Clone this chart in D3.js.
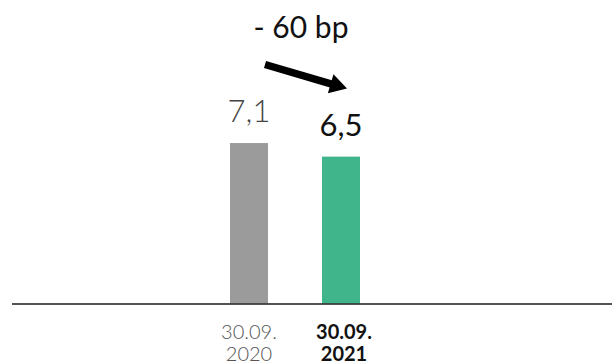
<!DOCTYPE html>
<html>
<head>
<meta charset="utf-8">
<script src="https://cdn.jsdelivr.net/npm/d3@7"></script>
<style>
  html, body { margin: 0; padding: 0; background: #fff; }
  svg { display: block; font-family: Lato, "Open Sans", sans-serif; }
</style>
</head>
<body>
<svg id="chart" width="612" height="364"></svg>
<script>
// Ratio at two reporting dates
const categories = ["30.09.2020", "30.09.2021"];
const values = [7.1, 6.5];
const valueLabels = ["7,1", "6,5"];
const tickLines = [["30.09.", "2020"], ["30.09.", "2021"]];
const changeLabel = "- 60 bp";
const barColors = ["#9b9b9b", "#40b48b"];

const svg = d3.select("#chart");

const x = d3.scaleBand()
  .domain(categories)
  .range([184, 406])
  .paddingInner(0.587)
  .paddingOuter(0.5);

const y = d3.scaleLinear()
  .domain([0, 10])
  .range([303.5, 77.5]);

// bars
svg.selectAll("rect.bar")
  .data(values)
  .join("rect")
  .attr("class", "bar")
  .attr("x", (d, i) => x(categories[i]))
  .attr("y", d => y(d))
  .attr("width", x.bandwidth())
  .attr("height", d => y(0) - y(d))
  .attr("fill", (d, i) => barColors[i]);

// baseline
svg.append("line")
  .attr("x1", 12).attr("x2", 612)
  .attr("y1", y(0) + 0.5).attr("y2", y(0) + 0.5)
  .attr("stroke", "#1a1a1a")
  .attr("stroke-width", 1.4);

// value labels
svg.selectAll("text.val")
  .data(values)
  .join("text")
  .attr("class", "val")
  .attr("x", (d, i) => x(categories[i]) + x.bandwidth() / 2)
  .attr("y", d => y(d) - 21)
  .attr("text-anchor", "middle")
  .attr("font-size", 31)
  .attr("font-weight", (d, i) => i === 0 ? 300 : 400)
  .attr("fill", (d, i) => i === 0 ? "#444" : "#111")
  .text((d, i) => valueLabels[i]);

// category labels (two lines each)
categories.forEach((c, i) => {
  const cx = x(c) + x.bandwidth() / 2 + (i === 1 ? 3 : 0);
  const t = svg.append("text")
    .attr("x", cx)
    .attr("y", 339)
    .attr("text-anchor", "middle")
    .attr("font-size", 20)
    .attr("font-weight", i === 0 ? 300 : 700)
    .attr("fill", i === 0 ? "#555" : "#111");
  tickLines[i].forEach((line, k) => {
    t.append("tspan")
      .attr("x", cx)
      .attr("dy", k === 0 ? 0 : 22)
      .text(line);
  });
});

// change annotation
const cx0 = x(categories[0]) + x.bandwidth() / 2;
const cx1 = x(categories[1]) + x.bandwidth() / 2;
svg.append("text")
  .attr("x", (cx0 + cx1) / 2 + 6)
  .attr("y", 38)
  .attr("text-anchor", "middle")
  .attr("font-size", 30)
  .attr("font-weight", 400)
  .attr("fill", "#111")
  .attr("xml:space", "preserve")
  .text(changeLabel);

// arrow from the earlier value toward the later one
const ax0 = cx0 + 16, ay0 = 64.5;
const ax1 = cx1 + 6, ay1 = 88.5;
const ang = Math.atan2(ay1 - ay0, ax1 - ax0);
const headLen = 17, headHalf = 10;
const bx = ax1 - headLen * Math.cos(ang), by = ay1 - headLen * Math.sin(ang);
svg.append("line")
  .attr("x1", ax0).attr("y1", ay0)
  .attr("x2", bx + 2 * Math.cos(ang)).attr("y2", by + 2 * Math.sin(ang))
  .attr("stroke", "#000")
  .attr("stroke-width", 7.5);
svg.append("path")
  .attr("d", d3.line()([
    [ax1, ay1],
    [bx - headHalf * Math.sin(ang), by + headHalf * Math.cos(ang)],
    [bx + headHalf * Math.sin(ang), by - headHalf * Math.cos(ang)]
  ]) + "Z")
  .attr("fill", "#000");
</script>
</body>
</html>
